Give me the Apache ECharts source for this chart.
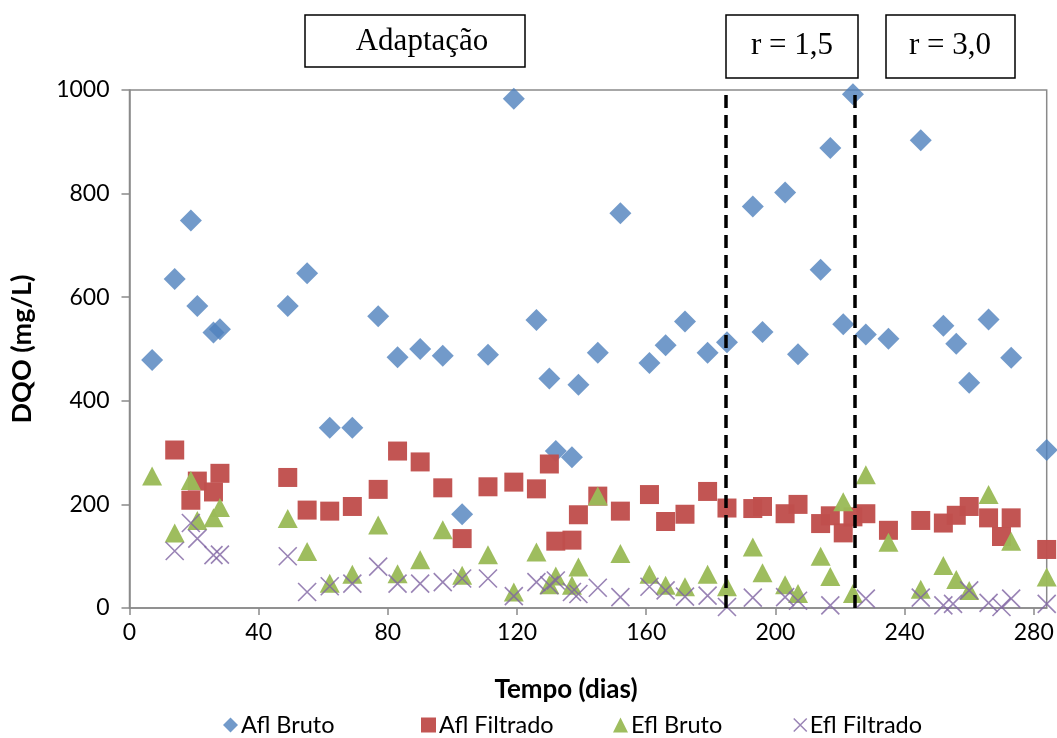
<!DOCTYPE html>
<html><head><meta charset="utf-8">
<script src="https://cdn.jsdelivr.net/npm/echarts@6/dist/echarts.min.js"></script>
<style>html,body{margin:0;padding:0;background:#fff}#c{width:1057px;height:738px}</style>
</head><body><div id="c"></div>
<script>
// ---- data ----
const seriesNames = ['Afl Bruto', 'Afl Filtrado', 'Efl Bruto', 'Efl Filtrado'];

const aflBrutoDays = [7,14,19,21,26,28,49,55,62,69,77,83,90,97,103,111,119,126,130,132,137,139,145,152,161,166,172,179,185,193,196,203,207,214,217,221,224,228,235,245,252,256,260,266,273,284];
const aflBruto     = [479,635,748,583,532,538,583,646,348,348,563,484,500,487,181,489,983,556,443,303,291,431,493,762,473,507,553,493,513,775,533,802,490,653,888,548,992,528,520,903,545,510,435,557,483,305];

const aflFiltDays  = [14,19,21,26,28,49,55,62,69,77,83,90,97,103,111,119,126,130,132,137,139,145,152,161,166,172,179,185,193,196,203,207,214,217,221,224,228,235,245,252,256,260,266,270,273,284];
const aflFilt      = [305,208,245,224,260,252,189,187,196,229,303,282,232,134,234,243,230,278,129,131,180,216,187,219,167,181,225,193,192,196,182,200,163,178,145,176,182,150,169,164,179,196,174,138,174,113];

const eflBrutoDays = [7,14,19,21,26,28,49,55,62,69,77,83,90,97,103,111,119,126,130,132,137,139,145,152,161,166,172,179,185,193,196,203,207,214,217,221,224,228,235,245,252,256,260,266,273,284];
const eflBruto     = [255,145,246,169,174,194,173,109,48,65,160,66,93,151,63,103,31,108,45,62,44,79,216,105,65,44,41,65,41,118,68,45,28,100,61,205,28,257,127,36,82,55,34,219,129,60];

const eflFiltDays  = [14,19,21,26,28,49,55,62,69,77,83,90,97,103,111,119,126,130,132,137,139,145,152,161,166,172,179,185,193,203,207,217,228,245,252,255,260,266,270,273,284];
const eflFilt      = [110,164,134,102,103,100,31,42,47,80,47,47,50,57,57,23,50,44,53,31,27,39,21,41,34,22,24,2,20,21,14,5,18,20,5,8,34,10,2,18,8];

const phaseLines = [184.5, 224.5];           // dashed separators (days)
const phaseLabels = ['Adaptação', 'r = 1,5', 'r = 3,0'];
const xAxisTitle = 'Tempo (dias)';
const yAxisTitle = 'DQO (mg/L)';

// ---- chart ----
const pair = (d, v) => d.map((x, i) => [x, v[i]]);
const colors = ['#4F81BD', '#C0504D', '#9BBB59', '#8064A2'];
const crossPath = 'path://M0,0L10,10M10,0L0,10';
const FONT = 'Lato, "Open Sans", sans-serif';
const SERIF = '"Liberation Serif", serif';
const AX = '#8a8a8a';

const chart = echarts.init(document.getElementById('c'), null, {renderer: 'canvas'});

const legendLefts = [218, 416, 608, 788];
const legendIcons = ['diamond', 'rect', 'triangle', crossPath];

chart.setOption({
  animation: false,
  backgroundColor: '#fff',
  grid: {left: 129.5, right: 10.3, top: 90, bottom: 130, show: true, borderColor: AX, borderWidth: 1.5, backgroundColor: 'transparent'},
  xAxis: {
    type: 'value', min: 0, max: 284, interval: 40,
    axisLine: {show: true, onZero: false, lineStyle: {color: AX, width: 1.5}},
    axisTick: {show: true, length: 7, inside: false, lineStyle: {color: AX, width: 1.5}},
    splitLine: {show: false},
    axisLabel: {fontSize: 23, fontFamily: FONT, color: '#000', margin: 13, showMaxLabel: false, formatter: v => String(v)}
  },
  yAxis: {
    type: 'value', min: 0, max: 1000, interval: 200,
    name: yAxisTitle, nameLocation: 'middle', nameRotate: 90, nameGap: 94,
    nameTextStyle: {fontSize: 27, fontWeight: 'bold', fontFamily: FONT, color: '#000'},
    axisLine: {show: true, lineStyle: {color: AX, width: 1.5}},
    axisTick: {show: true, length: 8, inside: false, lineStyle: {color: AX, width: 1.5}},
    splitLine: {show: false},
    axisLabel: {fontSize: 23, fontFamily: FONT, color: '#000', margin: 20, formatter: v => String(v)}
  },
  legend: seriesNames.map((n, i) => ({
    data: [i === 3 ? {name: n, itemStyle: {color: 'transparent', borderColor: colors[3], borderWidth: 1.5}} : n],
    left: legendLefts[i], top: 708, itemWidth: i === 3 ? 13 : 15, itemHeight: i === 3 ? 13 : 15, itemGap: 4,
    icon: legendIcons[i],
    textStyle: {fontSize: 23.5, fontFamily: FONT, color: '#000', padding: [0, 0, 0, -2]},
    selectedMode: false
  })),
  graphic: [
    {type: 'rect', shape: {x: 305, y: 15, width: 220, height: 52}, style: {fill: '#fff', stroke: '#000', lineWidth: 1.5}},
    {type: 'text', x: 422, y: 42, style: {text: phaseLabels[0], fontSize: 31, fontFamily: SERIF, fill: '#000', align: 'center', verticalAlign: 'middle'}},
    {type: 'rect', shape: {x: 726, y: 15, width: 132, height: 63}, style: {fill: '#fff', stroke: '#000', lineWidth: 1.5}},
    {type: 'text', x: 792, y: 46, style: {text: phaseLabels[1], fontSize: 31, fontFamily: SERIF, fill: '#000', align: 'center', verticalAlign: 'middle'}},
    {type: 'rect', shape: {x: 886, y: 15, width: 129, height: 63}, style: {fill: '#fff', stroke: '#000', lineWidth: 1.5}},
    {type: 'text', x: 950, y: 46, style: {text: phaseLabels[2], fontSize: 31, fontFamily: SERIF, fill: '#000', align: 'center', verticalAlign: 'middle'}},
    {type: 'text', x: 566, y: 690, style: {text: xAxisTitle, fontSize: 26, fontWeight: 'bold', fontFamily: FONT, fill: '#000', align: 'center', verticalAlign: 'middle'}}
  ],
  series: [
    {name: seriesNames[0], type: 'scatter', data: pair(aflBrutoDays, aflBruto), symbol: 'diamond', symbolSize: 22,
      itemStyle: {color: colors[0]}, z: 2,
      markLine: {silent: true, symbol: 'none', label: {show: false}, z: 10,
        lineStyle: {color: '#000', width: 3.5, type: [13, 7]},
        data: phaseLines.map(v => ({xAxis: v}))}},
    {name: seriesNames[1], type: 'scatter', data: pair(aflFiltDays, aflFilt), symbol: 'rect', symbolSize: 19,
      itemStyle: {color: colors[1], opacity: 0.97}, z: 3},
    {name: seriesNames[2], type: 'scatter', data: pair(eflBrutoDays, eflBruto), symbol: 'triangle', symbolSize: [20, 19],
      itemStyle: {color: colors[2], opacity: 0.97}, z: 4},
    {name: seriesNames[3], type: 'scatter', data: pair(eflFiltDays, eflFilt), symbol: crossPath, symbolSize: 18,
      itemStyle: {color: 'transparent', borderColor: colors[3], borderWidth: 1.6}, z: 5}
  ]
});
</script></body></html>
